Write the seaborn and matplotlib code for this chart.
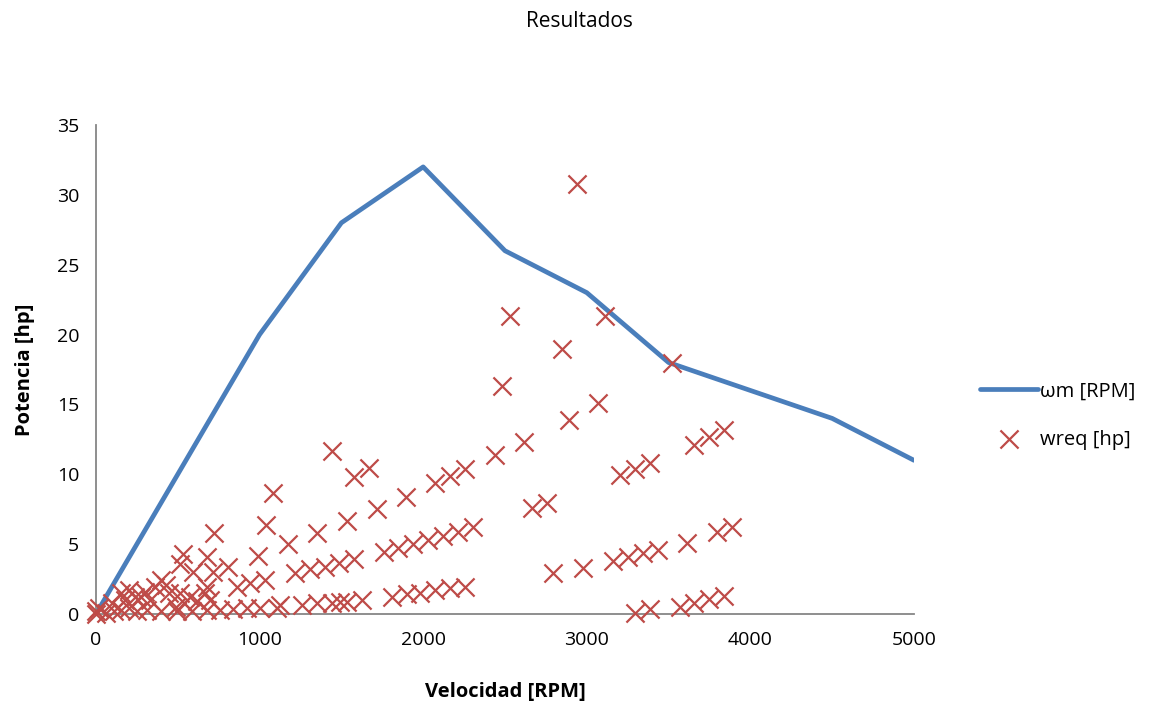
import numpy as np
import pandas as pd
import seaborn as sns
from matplotlib import pyplot as plt

# curva del motor
curva_rpm = [0, 1000, 1500, 2000, 2500, 3000, 3500, 4500, 5000]
curva_hp = [0, 20, 28, 32, 26, 23, 18, 14, 11]

# puntos requeridos
req_rpm = (
    [0, 0, 20, 60, 110, 150, 200, 250, 310, 400, 495, 587, 678, 758, 837, 922, 1002, 1105]
    + [100, 151, 180, 202, 240, 273, 300, 330, 360, 396, 430, 446, 487, 513, 540, 575, 620, 666, 700]
    + [513, 534, 595, 677, 717, 721, 809, 860, 941, 992, 1033, 1039, 1080, 677]
    + [1172, 1353, 1532, 1716, 1895, 2072, 2164, 2255, 2439]
    + [1216, 1308, 1400, 1487, 1577, 1760, 1848, 1940, 2031, 2123, 2215, 2302]
    + [1125, 1257, 1349, 1441, 1491, 1532, 1624, 1807, 1899, 1980, 2072, 2164, 2255]
    + [3203, 3295, 3386, 3657, 3749, 3839]
    + [2795, 2979, 3162, 3254, 3346, 3433, 3615, 3794, 3886]
    + [3295, 3386, 3570, 3657, 3749, 3839]
    + [1441, 1577, 1669, 2484, 2530, 2618, 2663, 2755, 2846, 2891, 2940, 3070, 3111, 3519]
)
req_hp = (
    [0.0, 0.2, 0.4, 0.1, 0.2, 0.3, 0.4, 0.2, 0.3, 0.2, 0.2, 0.2, 0.3, 0.3, 0.35, 0.4, 0.45, 0.4]
    + [0.8, 1.48, 1.0, 1.72, 1.2, 1.24, 1.6, 1.0, 1.9, 2.43, 2.1, 1.48, 0.52, 1.48, 0.8, 1.24, 0.9, 1.48, 1.0]
    + [3.6, 4.3, 3.0, 4.1, 3.0, 5.78, 3.39, 1.96, 2.2, 4.15, 2.43, 6.37, 8.64, 1.96]
    + [4.99, 5.82, 6.66, 7.52, 8.40, 9.35, 9.88, 10.36, 11.38]
    + [2.91, 3.20, 3.39, 3.67, 3.91, 4.46, 4.70, 5.01, 5.30, 5.58, 5.89, 6.25]
    + [0.64, 0.64, 0.76, 0.81, 0.88, 0.88, 1.0, 1.24, 1.41, 1.53, 1.72, 1.84, 1.96]
    + [9.95, 10.36, 10.83, 12.1, 12.7, 13.2]
    + [2.91, 3.32, 3.82, 4.1, 4.39, 4.58, 5.06, 5.85, 6.2]
    + [0.1, 0.33, 0.52, 0.76, 1.05, 1.31]
    + [11.67, 9.83, 10.47, 16.3, 21.3, 12.3, 7.6, 7.97, 19.0, 13.9, 30.8, 15.1, 21.3, 18.0]
)

curva = pd.DataFrame({'rpm': curva_rpm, 'hp': curva_hp})
req = pd.DataFrame({'rpm': req_rpm, 'hp': req_hp})

sns.set_style('white')
plt.rcParams['font.family'] = ['Open Sans', 'DejaVu Sans']
plt.rcParams['text.color'] = 'black'
plt.rcParams['axes.labelcolor'] = 'black'

fig = plt.figure(figsize=(11.59, 7.09), dpi=100)
ax = fig.add_axes([0.0828, 0.134, 0.7058, 0.6897])

sns.lineplot(data=curva, x='rpm', y='hp', ax=ax, color='#4A7EBB', linewidth=3.4,
             label='ωm [RPM]', solid_capstyle='round')
sns.scatterplot(data=req, x='rpm', y='hp', ax=ax, marker='x', color='#BE4B48',
                s=170, linewidth=1.6, label='wreq [hp]', zorder=3)

ax.set_xlim(0, 5000)
ax.set_ylim(0, 35)
ax.set_xticks(range(0, 5001, 1000))
ax.set_yticks(range(0, 36, 5))
sns.despine(ax=ax)
for s in ['left', 'bottom']:
    ax.spines[s].set_color('#868686')
    ax.spines[s].set_linewidth(1.3)
ax.tick_params(axis='both', colors='#868686', direction='out', length=6, width=1.3,
               labelsize=14, labelcolor='black', pad=6)
ax.set_xlabel('Velocidad [RPM]', fontsize=14.5, fontweight='bold', labelpad=24)
ax.set_ylabel('Potencia [hp]', fontsize=14.5, fontweight='bold', labelpad=16)
for c in ax.collections:
    c.set_clip_on(False)

fig.suptitle('Resultados', y=0.985, fontsize=15)

ax.legend_.remove()
h, l = ax.get_legend_handles_labels()
fig.legend(h, l, loc='center left', bbox_to_anchor=(0.83, 0.414), frameon=False,
           fontsize=14.5, handlelength=2.9, handletextpad=0.05, labelspacing=1.4)

fig.savefig('out.png', dpi=100)
